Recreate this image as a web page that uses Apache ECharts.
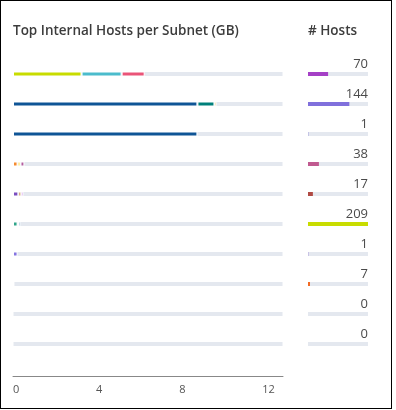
<!DOCTYPE html>
<html>
<head>
<meta charset="utf-8">
<script src="https://cdn.jsdelivr.net/npm/echarts@6/dist/echarts.min.js"></script>
<style>
html,body{margin:0;padding:0;background:#fff;}
#chart{position:absolute;left:0;top:0;width:396px;height:410px;}
#frame{position:absolute;left:0;top:0;width:392px;height:409px;box-sizing:border-box;border:1px solid #000;pointer-events:none;}
</style>
</head>
<body>
<div id="chart"></div>
<div id="frame"></div>
<script>
// ---- data ----
var subnets = ['S1','S2','S3','S4','S5','S6','S7','S8','S9','S10'];
var seg1 = [3.30, 8.88, 8.88, 0.22, 0.26, 0.22, 0.22, 0.07, '-', '-'];
var seg2 = [1.93, 0.82, '-', 0.14, 0.14, 0.05, '-', '-', '-', '-'];
var seg3 = [1.11, 0.10, '-', 0.19, 0.10, 0.10, '-', '-', '-', '-'];
var hosts = [70, 144, 1, 38, 17, 209, 1, 7, 0, 0];
var gbTicks = [0, 4, 8, 12];
var gbMax = 13;

// ---- styles ----
var seg1Colors = ['#c8dc00','#0f5596','#0f5596','#f58a2f','#7a4dbf','#30a58a','#8474e0','#7abf60','#ccc','#ccc'];
var seg2Colors = ['#4bbccc','#00807a','#ccc','#fdd835','#c07a30','#dddddd','#ccc','#ccc','#ccc','#ccc'];
var seg3Colors = ['#ea5478','#f5b942','#ccc','#b35fa0','#b03adf','#1f6ab0','#ccc','#ccc','#ccc','#ccc'];
var hostColors = ['#a540c6','#8070dc','#7a6fd0','#c05a90','#b04a44','#c8dc00','#8a6ad0','#f26a24','#ccc','#ccc'];
var bgColor = '#e4e8ef';
var FONT = 'Open Sans';

var hostMax = Math.max.apply(null, hosts);

function colored(values, colors){
  return values.map(function(v,i){ return {value:v, itemStyle:{color:colors[i]}}; });
}

var segBase = {
  type:'bar', stack:'gb', xAxisIndex:0, yAxisIndex:0, barWidth:5,
  itemStyle:{borderColor:'#fff', borderWidth:1},
  silent:true
};

var titleStyle = {fontFamily:FONT, fontSize:13.5, fontWeight:600, color:'#3c3c3c'};

var chart = echarts.init(document.getElementById('chart'), null, {renderer:'canvas'});
chart.setOption({
  animation:false,
  title:[
    {text:'Top Internal Hosts per Subnet (GB)', left:13, top:24, padding:0, textStyle:titleStyle},
    {text:'# Hosts', left:308, top:24, padding:0, textStyle:titleStyle}
  ],
  grid:[
    {left:13, top:59, width:270, height:300},
    {left:308, top:59, width:60, height:300}
  ],
  xAxis:[
    {type:'value', gridIndex:0, min:gbTicks[0], max:gbMax, interval:gbTicks[1]-gbTicks[0], offset:17,
     splitLine:{show:false}, axisTick:{show:false},
     axisLine:{show:true, lineStyle:{color:'#888', width:1}},
     axisLabel:{show:true, align:'left', margin:8, color:'#555', fontSize:11, fontFamily:FONT,
                showMinLabel:true, showMaxLabel:false}},
    {type:'value', gridIndex:1, min:0, max:hostMax, show:false}
  ],
  yAxis:[
    {type:'category', gridIndex:0, data:subnets, inverse:true, show:false},
    {type:'category', gridIndex:1, data:subnets, inverse:true, show:false}
  ],
  series:[
    Object.assign({}, segBase, {name:'seg1', data:colored(seg1, seg1Colors),
      showBackground:true, backgroundStyle:{color:bgColor, borderColor:'#fff', borderWidth:1}}),
    Object.assign({}, segBase, {name:'seg2', data:colored(seg2, seg2Colors)}),
    Object.assign({}, segBase, {name:'seg3', data:colored(seg3, seg3Colors)}),
    {type:'bar', name:'hosts', xAxisIndex:1, yAxisIndex:1, barWidth:4, barGap:'-100%',
     data:colored(hosts, hostColors), showBackground:true, backgroundStyle:{color:bgColor}, silent:true},
    {type:'bar', name:'hostLabels', xAxisIndex:1, yAxisIndex:1, barWidth:4, barGap:'-100%',
     data:hosts.map(function(){return hostMax;}), itemStyle:{color:'rgba(0,0,0,0)'}, silent:true,
     label:{show:true, position:['100%', -7.5], align:'right', verticalAlign:'middle',
            fontFamily:FONT, fontSize:13, color:'#4a4a4a',
            formatter:function(p){ return String(hosts[p.dataIndex]); }}}
  ]
});
</script>
</body>
</html>
